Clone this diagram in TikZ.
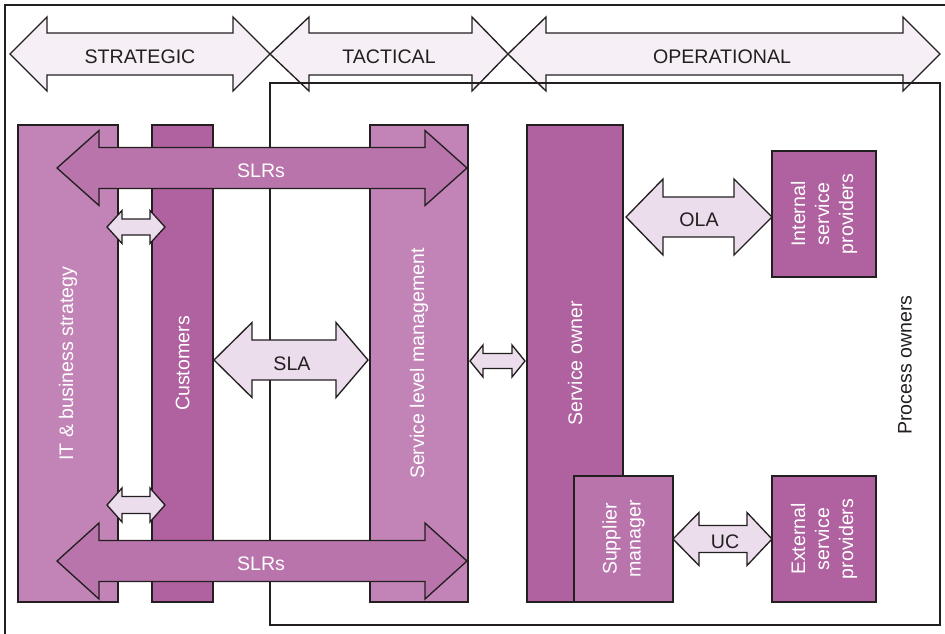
\documentclass[tikz,border=0pt]{standalone}
\usepackage{fontspec}
\setmainfont{Liberation Sans}
\definecolor{lineC}{HTML}{231F20}
\definecolor{boxL}{HTML}{C284B7}
\definecolor{boxD}{HTML}{B0619F}
\definecolor{boxM}{HTML}{B874AB}
\definecolor{arrL}{HTML}{EBDDEC}
\definecolor{arrT}{HTML}{F6EFF6}
\newcommand\pxu{0.75pt}
% #1 fill, #2 x left tip, #3 x right tip, #4 y centre, #5 left head length,
% #6 right head length, #7 shaft half height, #8 head half height
\newcommand\DArrow[8]{%
  \draw[blk,fill=#1] (#2,#4) -- (#2+#5,#4-#8) -- (#2+#5,#4-#7) -- (#3-#6,#4-#7)
    -- (#3-#6,#4-#8) -- (#3,#4) -- (#3-#6,#4+#8) -- (#3-#6,#4+#7)
    -- (#2+#5,#4+#7) -- (#2+#5,#4+#8) -- cycle;}
\begin{document}
\begin{tikzpicture}[x=0.75pt,y=-0.75pt,
  blk/.style={draw=lineC,line width=1pt,line join=miter},
  box/.style={draw=lineC,line width=1pt,inner sep=0pt,outer sep=0pt},
  wlab/.style={text=white,align=center,inner sep=0pt,font=\fontsize{14.7}{18}\selectfont},
  dlab/.style={text=lineC,align=center,inner sep=0pt,font=\fontsize{14.7}{18}\selectfont}]
\useasboundingbox (0,0) rectangle (945,633);
\clip (0,0) rectangle (945,633);
\fill[white] (0,0) rectangle (945,633);
% outer frame
\draw[blk] (960,5) -- (5,5) -- (5,650);
% top arrows
\DArrow{arrT}{10}{270}{54}{37}{37}{21}{37}
\node[dlab] (strat) at (140,57) {STRATEGIC};
\DArrow{arrT}{270}{508}{54}{39}{36}{21}{37}
\node[dlab] (tact) at (389,57) {TACTICAL};
\DArrow{arrT}{508}{940}{54}{38}{37}{21}{37}
\node[dlab] (oper) at (722,57) {OPERATIONAL};
% process owners frame
\draw[blk] (270,83) rectangle (940,625);
\node[dlab,rotate=90] (po) at (905,365) {Process owners};
% left boxes
\node[box,fill=boxL,minimum width=100*\pxu,minimum height=477*\pxu] (itb) at (68,363.5) {};
\node[box,fill=boxD,minimum width=61*\pxu,minimum height=477*\pxu] (cust) at (182.5,363.5) {};
\node[box,fill=boxL,minimum width=98*\pxu,minimum height=477*\pxu] (slm) at (419,363.5) {};
\node[wlab,rotate=90] (itbl) at (itb.center) {IT \& business strategy};
\node[wlab,rotate=90] (custl) at (cust.center) {Customers};
\node[wlab,rotate=90] (slml) at (slm.center) {Service level management};
% SLRs arrows
\DArrow{boxM}{57}{467}{168}{42}{42}{20.5}{37.5}
\node[wlab] (slr1) at (261,171) {SLRs};
\DArrow{boxM}{57}{467}{561}{42}{42}{20.5}{38}
\node[wlab] (slr2) at (261,564) {SLRs};
% small arrows
\DArrow{arrL}{107}{165}{227}{15}{15}{8}{16.5}
\DArrow{arrL}{107}{165}{505}{15}{15}{8.5}{17}
% SLA
\DArrow{arrL}{214}{368}{360}{38}{32}{20}{37.5}
\node[dlab] (sla) at (292,364) {SLA};
% right boxes
\node[box,fill=boxD,minimum width=96*\pxu,minimum height=477*\pxu] (so) at (575,363.5) {};
\node[wlab,rotate=90] (sol) at (so.center) {Service owner};
\node[box,fill=boxM,minimum width=99*\pxu,minimum height=126*\pxu] (sup) at (623.5,539) {};
\node[wlab,rotate=90] (supl) at (sup.center) {Supplier\\manager};
\node[box,fill=boxD,minimum width=104*\pxu,minimum height=126*\pxu] (isp) at (824,214) {};
\node[wlab,rotate=90] (ispl) at (isp.center) {Internal\\service\\providers};
\node[box,fill=boxD,minimum width=104*\pxu,minimum height=126*\pxu] (esp) at (824,539) {};
\node[wlab,rotate=90] (espl) at (esp.center) {External\\service\\providers};
% connecting arrows
\DArrow{arrL}{470}{525}{361}{13}{13}{7.5}{16}
\DArrow{arrL}{626}{772}{217}{37}{38}{20}{38}
\node[dlab] (ola) at (699,220) {OLA};
\DArrow{arrL}{673}{772}{539}{26}{25}{13.5}{26.5}
\node[dlab] (uc) at (725,542) {UC};
\end{tikzpicture}
\end{document}
